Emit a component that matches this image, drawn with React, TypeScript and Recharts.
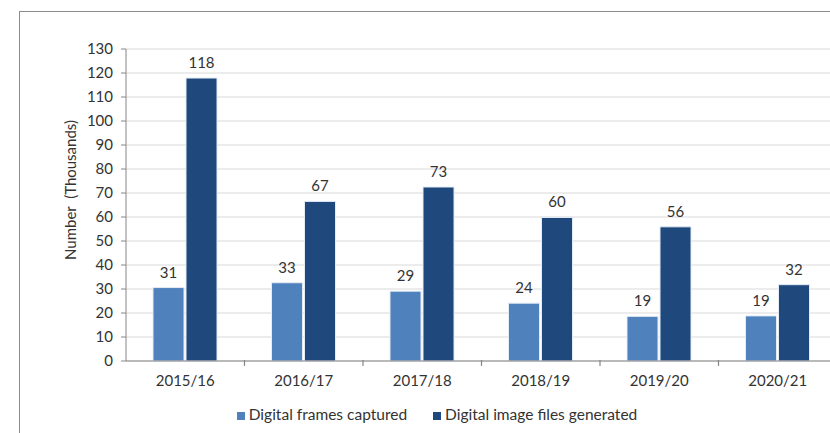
import { BarChart, Bar, XAxis, YAxis, CartesianGrid, Legend, LabelList } from "recharts";

const years = ["2015/16", "2016/17", "2017/18", "2018/19", "2019/20", "2020/21"];
const framesCaptured = [30.6, 32.6, 29.1, 24.1, 18.6, 18.8];
const filesGenerated = [117.9, 66.5, 72.5, 59.8, 55.9, 31.8];
const yTicks = [0, 10, 20, 30, 40, 50, 60, 70, 80, 90, 100, 110, 120, 130];

const chartData = years.map((year, i) => ({
  year,
  frames: framesCaptured[i],
  files: filesGenerated[i],
}));

const FONT = "Lato, 'Open Sans', sans-serif";
const TEXT = "#333333";
const AXIS = "#868686";

const YTitle = (props: any) => {
  const vb = props.viewBox || { x: 0, y: 0, width: 0, height: 0 };
  const x = vb.x + 70;
  const y = vb.y + vb.height / 2 - 15;
  return (
    <text
      x={x}
      y={y}
      transform={`rotate(-90, ${x}, ${y})`}
      textAnchor="middle"
      dominantBaseline="central"
      fill={TEXT}
      fontSize={15}
      fontFamily={FONT}
      style={{ whiteSpace: "pre" }}
    >
      {"Number  (Thousands)"}
    </text>
  );
};

// category label in the middle, tick mark on the band's right edge
const YearTick = (props: any) => {
  const { x, y, payload } = props;
  const edge = x + (payload && payload.offset ? payload.offset : 59);
  return (
    <g>
      <line x1={edge} y1={y - 15} x2={edge} y2={y - 9} stroke={AXIS} strokeWidth={1.2} />
      <text
        x={x}
        y={y}
        dy="0.71em"
        textAnchor="middle"
        fill={TEXT}
        fontSize={15}
        fontFamily={FONT}
      >
        {payload.value}
      </text>
    </g>
  );
};

const App = () => {
  return (
    <div
      style={{
        position: "absolute",
        top: 0,
        left: 0,
        width: 830,
        height: 433,
        overflow: "hidden",
        background: "#fff",
        fontFamily: FONT,
      }}
    >
      <div
        style={{
          position: "absolute",
          left: 19,
          top: 11,
          width: 900,
          height: 500,
          borderTop: "1.5px solid #8c8c8c",
          borderLeft: "1.5px solid #8c8c8c",
        }}
      />
      <div style={{ position: "absolute", left: 0, top: 0 }}>
        <BarChart
          width={840}
          height={433}
          data={chartData}
          margin={{ top: 49, right: 3, left: 0, bottom: 10 }}
          barCategoryGap={27}
          barGap={2}
        >
          <CartesianGrid vertical={false} stroke="#d9d9d9" />
          <XAxis
            dataKey="year"
            tickLine={false}
            axisLine={{ stroke: AXIS }}
            tick={YearTick}
            tickSize={0}
            tickMargin={14}
            height={44}
          />
          <YAxis
            width={126}
            domain={[0, 130]}
            ticks={yTicks}
            interval={0}
            axisLine={{ stroke: AXIS }}
            tickLine={{ stroke: AXIS }}
            tickSize={5}
            tickMargin={8}
            tick={{ fill: TEXT, fontSize: 15, fontFamily: FONT }}
            label={{ content: YTitle }}
          />
          <Legend
            verticalAlign="bottom"
            iconType="square"
            iconSize={8}
            wrapperStyle={{ left: 30, width: 840, fontSize: 15.5, fontFamily: FONT }}
            formatter={(value: string) => (
              <span style={{ color: TEXT, paddingRight: 16 }}>{value}</span>
            )}
          />
          <Bar
            dataKey="frames"
            name="Digital frames captured"
            fill="#4f81bd"
            stroke="#e4ebf5"
            strokeWidth={1}
            isAnimationActive={false}
          >
            <LabelList
              dataKey="frames"
              position="top"
              offset={10}
              formatter={(v: any) => Math.round(Number(v))}
              style={{ fill: TEXT, fontSize: 15, fontFamily: FONT }}
            />
          </Bar>
          <Bar
            dataKey="files"
            name="Digital image files generated"
            fill="#1f497d"
            stroke="#e4ebf5"
            strokeWidth={1}
            isAnimationActive={false}
          >
            <LabelList
              dataKey="files"
              position="top"
              offset={10}
              formatter={(v: any) => Math.round(Number(v))}
              style={{ fill: TEXT, fontSize: 15, fontFamily: FONT }}
            />
          </Bar>
        </BarChart>
      </div>
    </div>
  );
};

export default App;
